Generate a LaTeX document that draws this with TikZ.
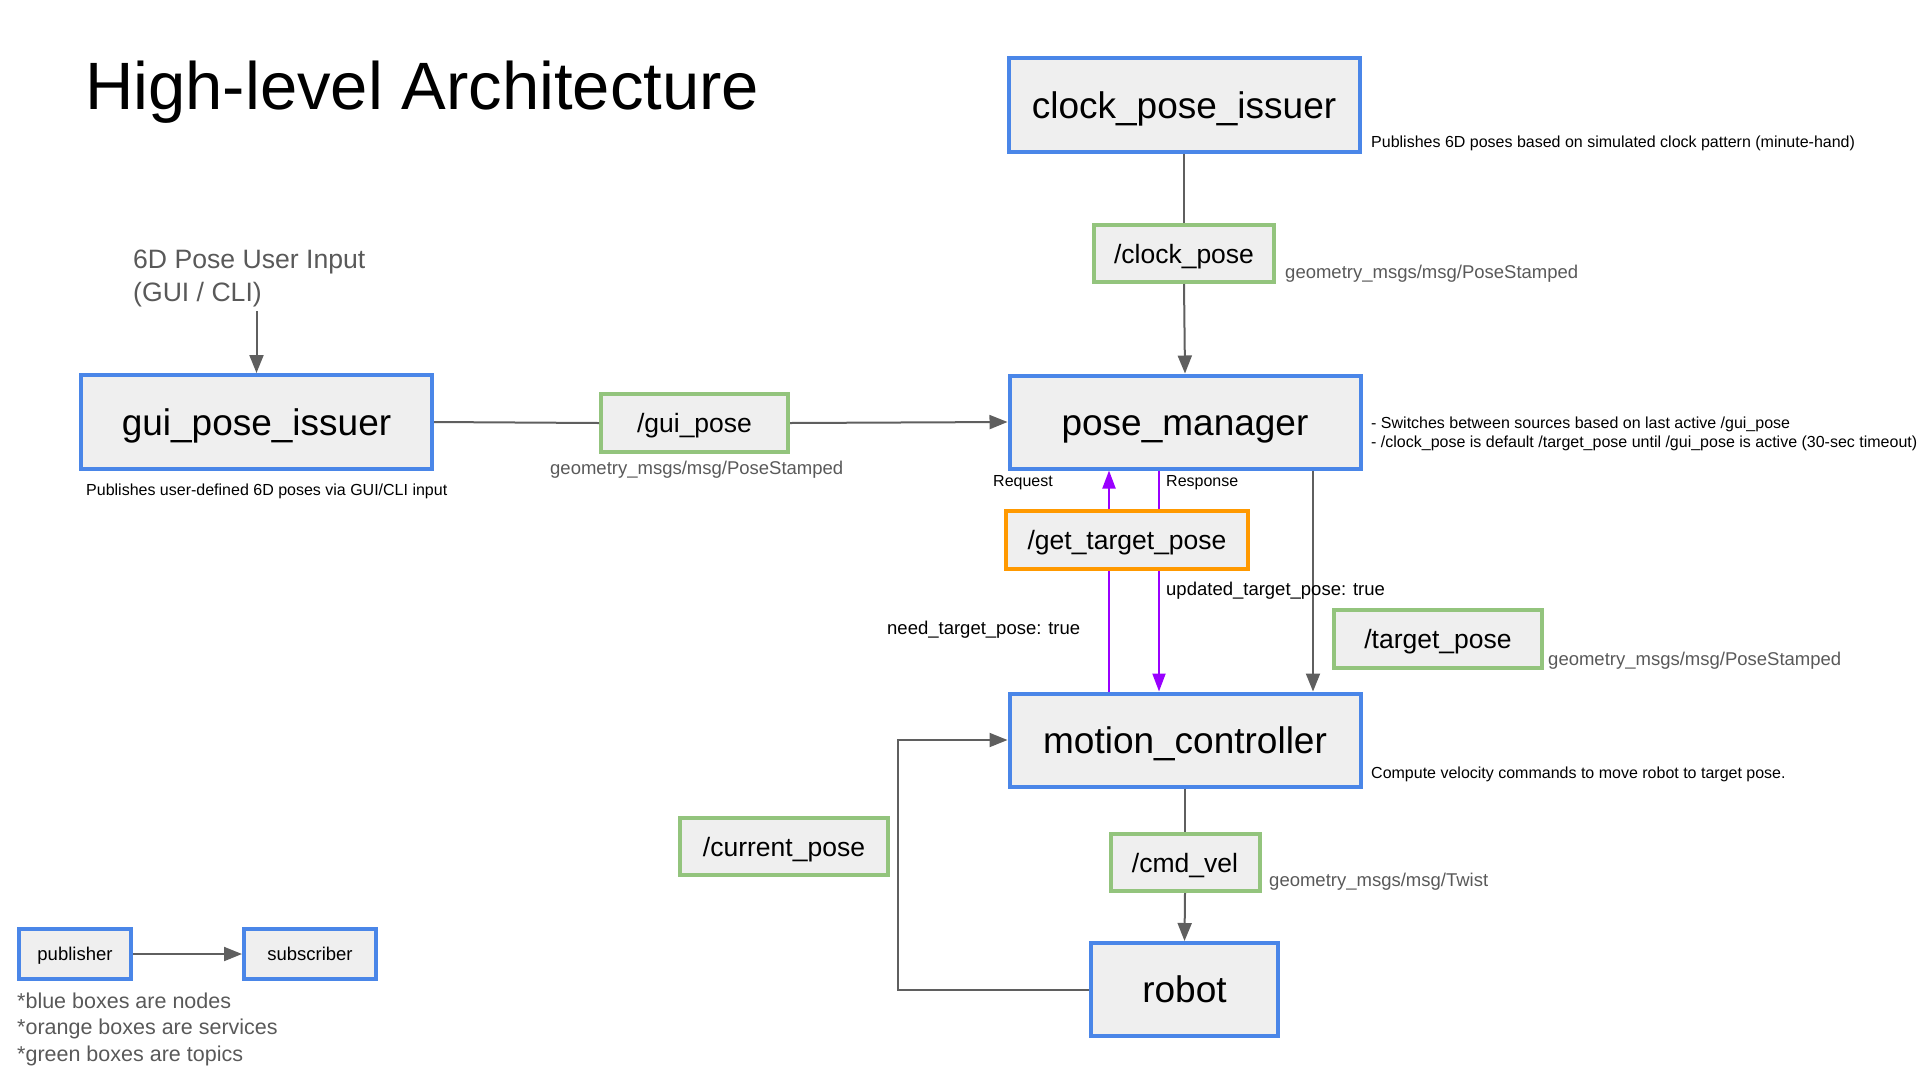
\documentclass[tikz,border=0pt]{standalone}
\usepackage{fontspec}
\setmainfont{Liberation Sans}
\usetikzlibrary{arrows.meta,calc}
\definecolor{nblue}{HTML}{4A86E8}
\definecolor{tgreen}{HTML}{93C47D}
\definecolor{sorange}{HTML}{FF9900}
\definecolor{ppurple}{HTML}{9900FF}
\definecolor{boxfill}{HTML}{EFEFEF}
\definecolor{lgray}{HTML}{5F5F5F}
\definecolor{tgray}{HTML}{595959}
\begin{document}
\begin{tikzpicture}[x=1pt,y=-1pt,
  box/.style={draw, line width=4pt, fill=boxfill, inner sep=0pt, text=black},
  nodebox/.style={box, draw=nblue, font=\fontsize{37}{44}\selectfont, text height=26.5pt, text depth=0pt},
  topicbox/.style={box, draw=tgreen, font=\fontsize{26.5}{32}\selectfont, text height=19pt, text depth=0pt},
  servicebox/.style={box, draw=sorange, font=\fontsize{26.5}{32}\selectfont, text height=19pt, text depth=0pt},
  legendbox/.style={box, draw=nblue, font=\fontsize{18.5}{22}\selectfont, text height=13.2pt, text depth=0pt},
  conn/.style={draw=lgray, line width=2pt},
  arr/.style={conn, -{Triangle[length=18pt,width=14pt]}},
  pconn/.style={draw=ppurple, line width=2pt},
  parr/.style={pconn, -{Triangle[length=18pt,width=13pt]}},
  caption/.style={inner sep=0pt, anchor=west, text=black, font=\fontsize{16}{19}\selectfont, align=left},
  msgtype/.style={inner sep=0pt, anchor=west, text=tgray, font=\fontsize{18.5}{22}\selectfont},
  flabel/.style={inner sep=0pt, anchor=west, text=black, font=\fontsize{18.5}{22}\selectfont},
  graytext/.style={inner sep=0pt, anchor=west, text=tgray, align=left}
]
\useasboundingbox (0,0) rectangle (1920,1080);

% title
\node[inner sep=0pt, anchor=base west, font=\fontsize{67}{80}\selectfont] (title) at (85,109) {High-level Architecture};

% main nodes
\node[nodebox, minimum width=351pt, minimum height=94pt] (cpi) at (1184,105) {clock\_pose\_issuer};
\node[nodebox, minimum width=351pt, minimum height=93pt] (pm) at (1185,422) {pose\_manager};
\node[nodebox, minimum width=351pt, minimum height=93pt] (mc) at (1185,740) {motion\_controller};
\node[nodebox, minimum width=351pt, minimum height=94pt] (gui) at (256.5,422) {gui\_pose\_issuer};
\node[nodebox, minimum width=187pt, minimum height=93pt] (robot) at (1184.5,989.5) {robot};

% topics
\node[topicbox, minimum width=180pt, minimum height=57pt] (clockpose) at (1184,253.5) {/clock\_pose};
\node[topicbox, minimum width=187pt, minimum height=58pt] (guipose) at (694.5,423) {/gui\_pose};
\node[topicbox, minimum width=208pt, minimum height=58pt] (targetpose) at (1438,639) {/target\_pose};
\node[topicbox, minimum width=208pt, minimum height=57pt] (currentpose) at (784,846.5) {/current\_pose};
\node[topicbox, minimum width=149pt, minimum height=57pt] (cmdvel) at (1185,862.5) {/cmd\_vel};

% service
\node[servicebox, minimum width=242pt, minimum height=58pt] (gtp) at (1127,540) {/get\_target\_pose};

% legend
\node[legendbox, minimum width=112pt, minimum height=50pt] (pub) at (75,954) {publisher};
\node[legendbox, minimum width=132pt, minimum height=50pt] (sub) at (310,954) {subscriber};
\draw[arr] (pub.east) -- (sub.west);
\node[graytext, font=\fontsize{21.5}{26.5}\selectfont] (legendtext) at (17,1029) {*blue boxes are nodes\\*orange boxes are services\\*green boxes are topics};

% user input
\node[graytext, font=\fontsize{26.6}{33}\selectfont] (uin) at (133,278) {6D Pose User Input\\(GUI / CLI)};
\coordinate (uina) at (256.5,311);
\draw[arr] (uina) -- (gui.north);

% captions
\node[caption] (cpicap) at (1371,143) {Publishes 6D poses based on simulated clock pattern (minute-hand)};
\node[caption] (pmcap) at (1371,433.5) {- Switches between sources based on last active /gui\_pose\\- /clock\_pose is default /target\_pose until /gui\_pose is active (30-sec timeout)};
\node[caption] (mccap) at (1371,774) {Compute velocity commands to move robot to target pose.};
\node[caption] (guicap) at (86,491) {Publishes user-defined 6D poses via GUI/CLI input};

% message types
\node[msgtype] (cpmsg) at (1285,274) {geometry\_msgs/msg/PoseStamped};
\node[msgtype] (gpmsg) at (550,470) {geometry\_msgs/msg/PoseStamped};
\node[msgtype] (tpmsg) at (1548,661) {geometry\_msgs/msg/PoseStamped};
\node[msgtype] (cvmsg) at (1269,882) {geometry\_msgs/msg/Twist};

% connectors
\draw[conn] (gui.east) -- (guipose.west);
\draw[arr] (guipose.east) -- (pm.west);
\draw[conn] (cpi.south) -- (clockpose.north);
\draw[arr] (clockpose.south) -- (pm.north);

\coordinate (reqx) at (1109,0);
\coordinate (resx) at (1159,0);
\coordinate (tpx) at (1313,0);
\draw[pconn] (mc.north -| reqx) -- (gtp.south -| reqx);
\draw[parr] (gtp.north -| reqx) -- (pm.south -| reqx);
\draw[pconn] (pm.south -| resx) -- (gtp.north -| resx);
\draw[parr] (gtp.south -| resx) -- (mc.north -| resx);
\draw[arr] (pm.south -| tpx) -- (mc.north -| tpx);

\node[caption] (reqlbl) at (993,483) {Request};
\node[caption] (reslbl) at (1166,483) {Response};
\node[flabel] (updlbl) at (1166,590.5) {updated\_target\_pose: true};
\node[flabel] (needlbl) at (887,629.5) {need\_target\_pose: true};

\draw[conn] (mc.south) -- (cmdvel.north);
\draw[arr] (cmdvel.south) -- (robot.north);

\coordinate (fbx) at (898,0);
\draw[arr] (robot.west) -- (robot.west -| fbx) -- (mc.west -| fbx) -- (mc.west);
\end{tikzpicture}
\end{document}
